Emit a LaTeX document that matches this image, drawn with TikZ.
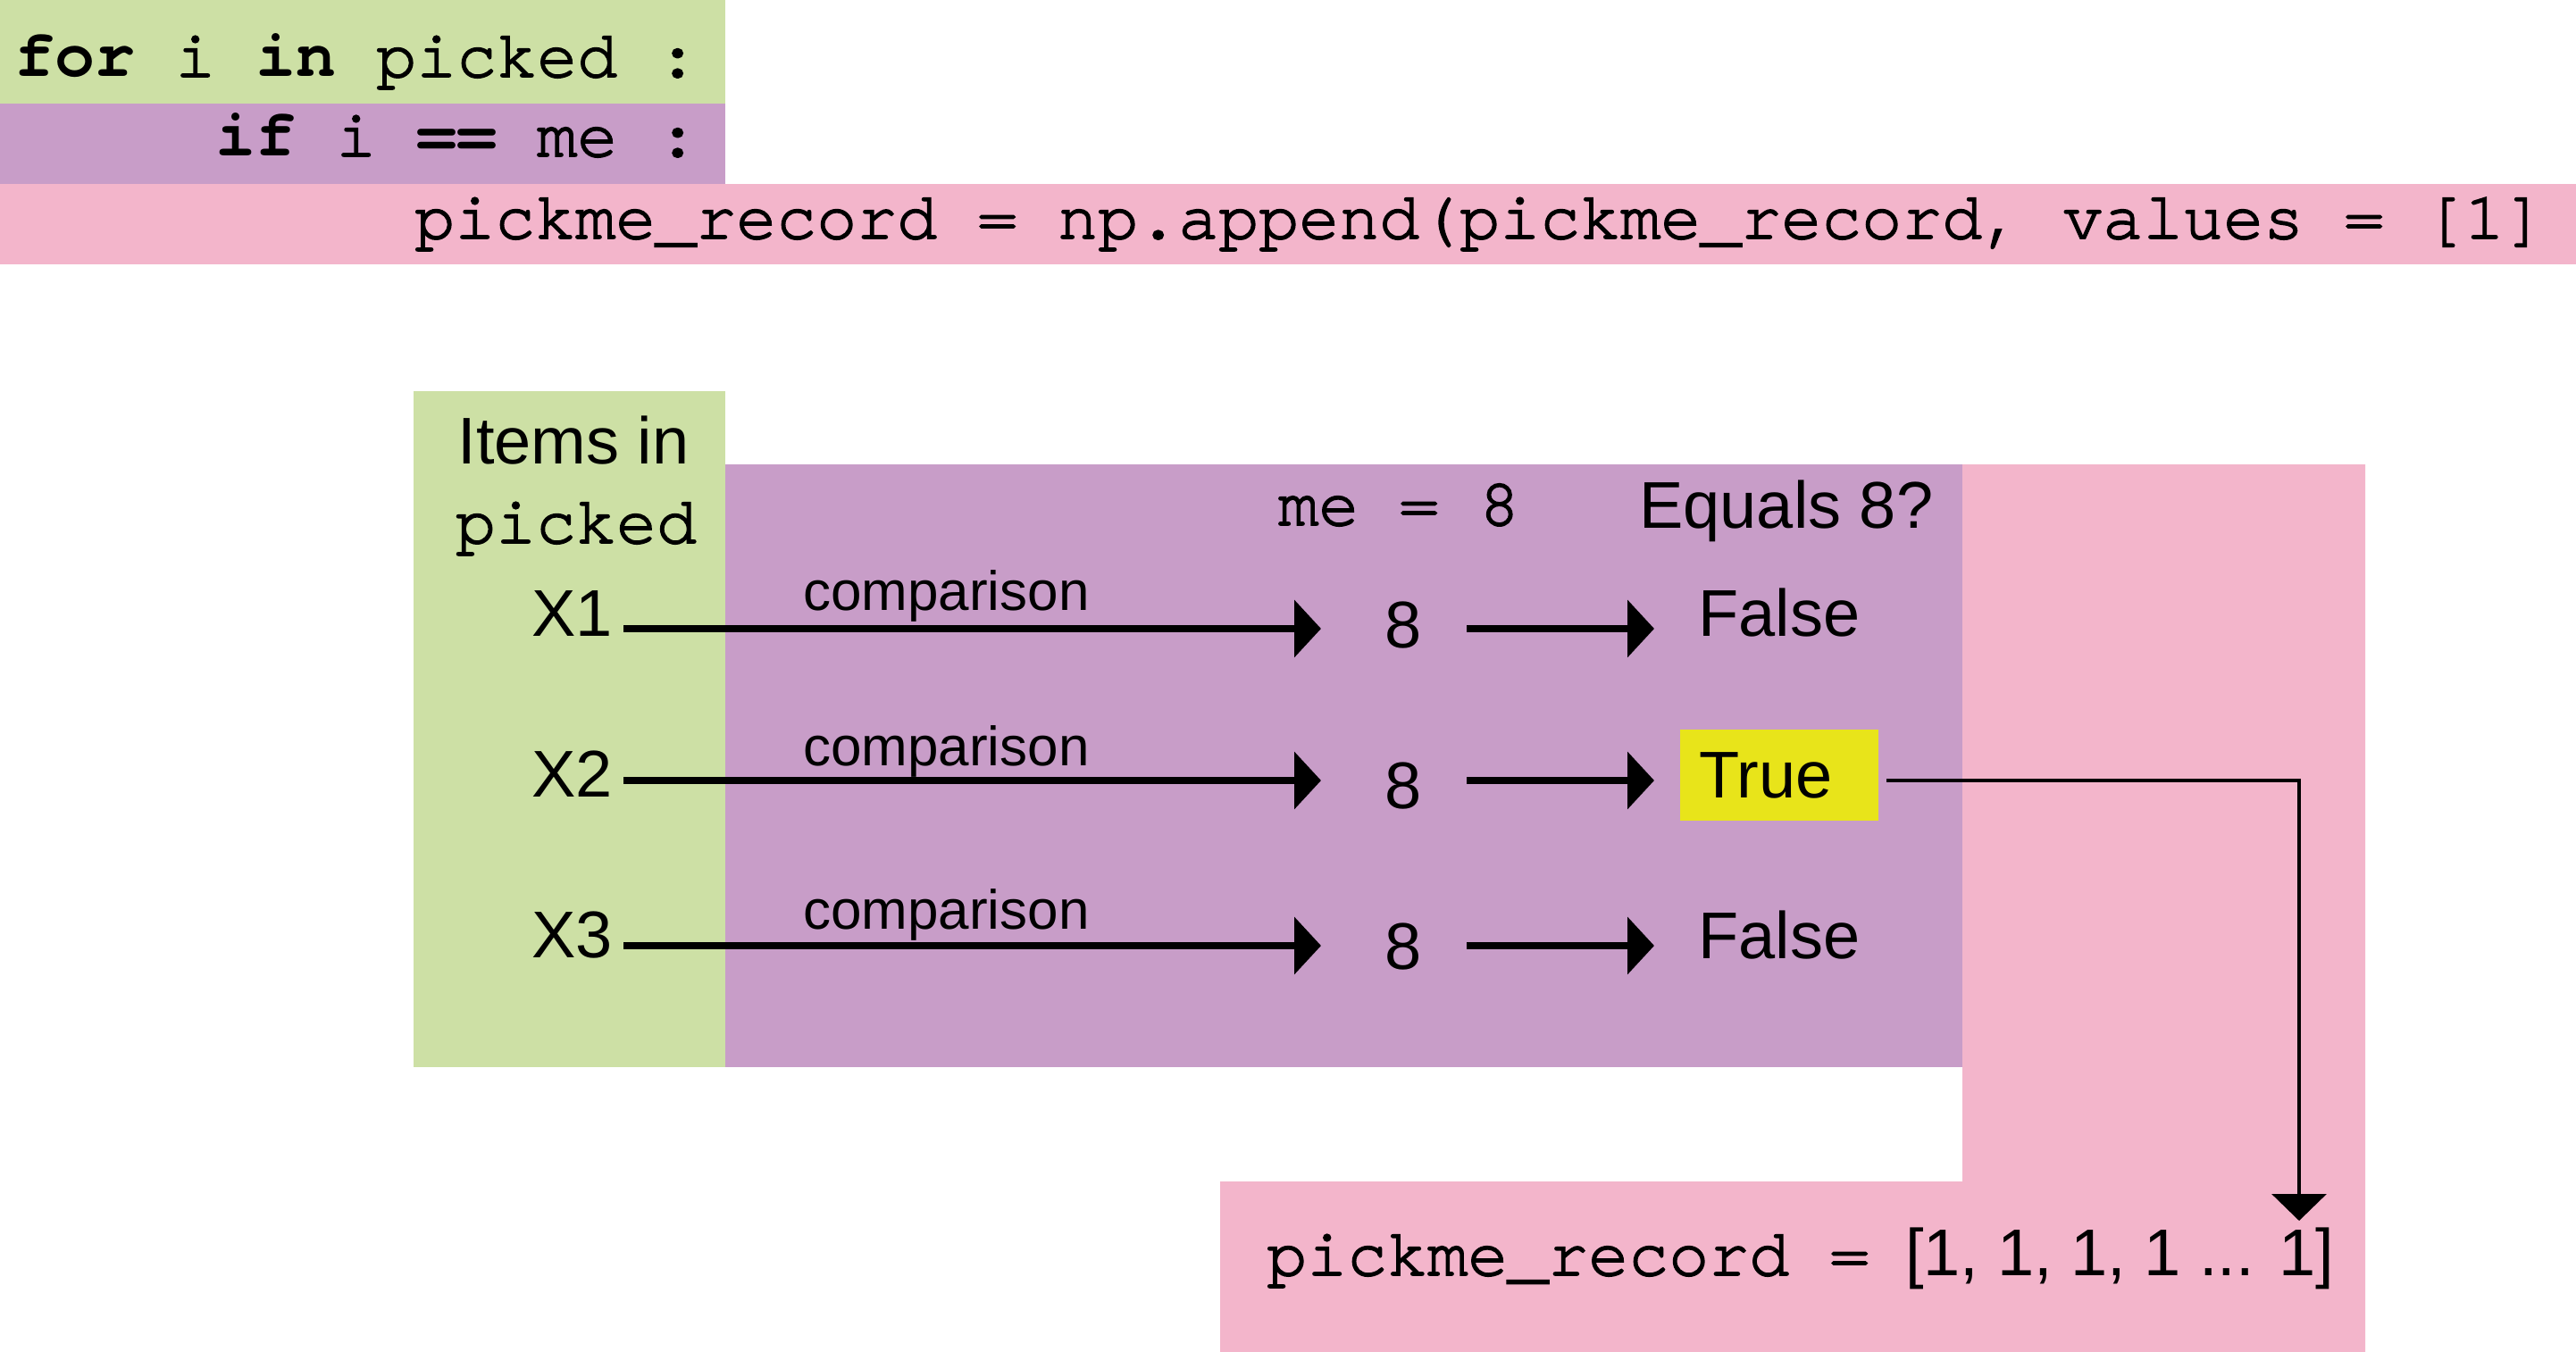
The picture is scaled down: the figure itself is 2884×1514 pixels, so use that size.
\documentclass[tikz,border=0pt]{standalone}
\usepackage{fontspec}
\setmainfont{Liberation Sans}
\setmonofont{TeX Gyre Cursor}[UprightFeatures={FakeBold=2.3}]
\usetikzlibrary{arrows.meta}
\definecolor{cgreen}{HTML}{CDE0A5}
\definecolor{cpurple}{HTML}{C89DC8}
\definecolor{cpink}{HTML}{F3B5CB}
\definecolor{cyellow}{HTML}{E8E41A}
\begin{document}
\begin{tikzpicture}[x=1pt,y=-1pt,
  sanstxt/.style={inner sep=0pt, font=\fontsize{74}{80}\selectfont},
  monotxt/.style={inner sep=0pt, font=\fontsize{75}{80}\selectfont\ttfamily},
  smalltxt/.style={inner sep=0pt, font=\fontsize{62}{68}\selectfont},
  bigarrow/.style={line width=8pt, -{Triangle[length=30pt,width=63pt]}},
  thinarrow/.style={line width=3.5pt, -{Triangle[length=30pt,width=61pt]}},
]
\useasboundingbox (0,0) rectangle (2884,1514);
% top code backgrounds
\fill[cgreen]  (0,0)   rectangle (812,116);
\fill[cpurple] (0,116) rectangle (812,206);
\fill[cpink]   (0,206) rectangle (2884,296);
% middle backgrounds
\fill[cgreen]  (463,438) rectangle (812,1195);
\fill[cpurple] (812,520) rectangle (2197,1195);
\fill[cpink] (2197,520) -- (2648,520) -- (2648,1514) -- (1366,1514) -- (1366,1323) -- (2197,1323) -- cycle;

% code lines
\node[monotxt, anchor=base west] (code1) at (16,86) {\textbf{for} i \textbf{in} picked :};
\node[monotxt, anchor=base west] (code2) at (241,175) {\textbf{if} i \textbf{==} me :};
\node[monotxt, anchor=base west] (code3) at (464,267) {pickme\_record = np.append(pickme\_record, values = [1]};

% headers
\node[sanstxt, anchor=base] (items) at (642,519) {Items in};
\node[monotxt, anchor=base] (picked) at (645,608) {picked};
\node[monotxt, anchor=base west] (me) at (1431,588) {me = 8};
\node[sanstxt, anchor=base west] (equals) at (1835,591) {Equals 8?};

% rows
\node[sanstxt, anchor=base east] (X1) at (686,712) {X1};
\node[sanstxt, anchor=base east] (X2) at (686,892) {X2};
\node[sanstxt, anchor=base east] (X3) at (686,1072) {X3};

\node[smalltxt, anchor=base west] (cmp1) at (899,683) {comparison};
\node[smalltxt, anchor=base west] (cmp2) at (899,857) {comparison};
\node[smalltxt, anchor=base west] (cmp3) at (899,1040) {comparison};

\node[sanstxt, anchor=base] (eight1) at (1571,725) {8};
\node[sanstxt, anchor=base] (eight2) at (1571,905) {8};
\node[sanstxt, anchor=base] (eight3) at (1571,1085) {8};

\node[sanstxt, anchor=base west] (false1) at (1901,712) {False};
\node[fill=cyellow, inner sep=0pt, minimum width=222pt, minimum height=102pt, anchor=north west] (truebox) at (1881,817) {};
\node[sanstxt, anchor=base west] (true) at (1902,893) {True};
\node[sanstxt, anchor=base west] (false3) at (1901,1073) {False};

% arrow end points
\coordinate (s1) at (698,704);  \coordinate (e1) at (1479,704);
\coordinate (s2) at (698,874);  \coordinate (e2) at (1479,874);
\coordinate (s3) at (698,1059); \coordinate (e3) at (1479,1059);
\coordinate (t1) at (1642,704);  \coordinate (u1) at (1852,704);
\coordinate (t2) at (1642,874);  \coordinate (u2) at (1852,874);
\coordinate (t3) at (1642,1059); \coordinate (u3) at (1852,1059);

\draw[bigarrow] (s1) -- (e1);
\draw[bigarrow] (s2) -- (e2);
\draw[bigarrow] (s3) -- (e3);
\draw[bigarrow] (t1) -- (u1);
\draw[bigarrow] (t2) -- (u2);
\draw[bigarrow] (t3) -- (u3);

% result
\node[monotxt, anchor=base west] (result) at (1418,1428) {pickme\_record =};
\node[sanstxt, anchor=base west] (resultvals) at (2133,1428) {[1, 1, 1, 1 ... 1]};
\coordinate (start) at (2112,874);
\coordinate (recv) at (2574,1367);
\draw[thinarrow] (start) -| (recv);
\end{tikzpicture}
\end{document}
